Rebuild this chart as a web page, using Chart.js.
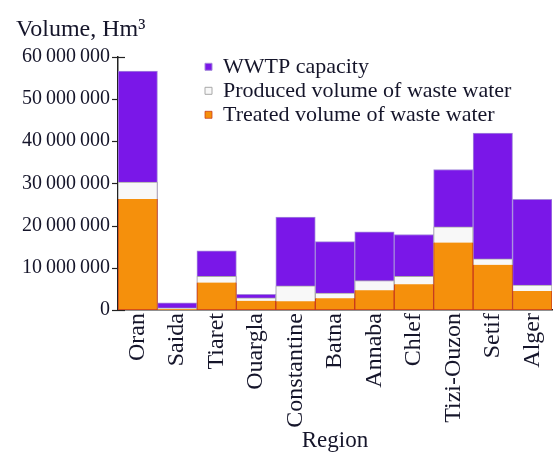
<!DOCTYPE html>
<html>
<head>
<meta charset="utf-8">
<script src="https://cdn.jsdelivr.net/npm/chart.js@4"></script>
<style>
  html, body { margin: 0; padding: 0; background: #fff; }
  #wrap { width: 558px; height: 455px; }
</style>
</head>
<body>
<div id="wrap"><canvas id="chart"></canvas></div>
<script>
// ===== Data =====
const regions = ["Oran", "Saida", "Tiaret", "Ouargla", "Constantine", "Batna", "Annaba", "Chlef", "Tizi-Ouzon", "Setif", "Alger"];
const wwtpCapacity   = [56.6e6, 1.7e6, 14.0e6, 3.7e6, 22.0e6, 16.2e6, 18.5e6, 17.9e6, 33.3e6, 41.9e6, 26.2e6];
const producedVolume = [30.3e6, 0.5e6,  8.0e6, 2.9e6,  5.7e6,  4.0e6,  7.0e6,  8.0e6, 19.7e6, 12.1e6,  5.9e6];
const treatedVolume  = [26.3e6, 0.2e6,  6.5e6, 2.2e6,  2.1e6,  2.8e6,  4.7e6,  6.1e6, 16.0e6, 10.7e6,  4.5e6];
const yMax = 60e6;
const yStep = 10e6;

const SERIF = "'Liberation Serif', 'Times New Roman', serif";
const INK = "#15152a";

// group thousands with thin spaces: 60 000 000
const fmt = v => v === 0 ? "0" : Math.round(v).toString().replace(/\B(?=(\d{3})+(?!\d))/g, "\u2009");

// ticks that cross the axes (drawn under the bars)
const axisTicks = {
  id: "axisTicks",
  beforeDatasetsDraw(chart) {
    const { ctx, scales: { x, y } } = chart;
    ctx.save();
    ctx.strokeStyle = "#222";
    ctx.lineWidth = 1.2;
    y.ticks.forEach(t => {
      const py = Math.round(y.getPixelForValue(t.value)) + 0.5;
      ctx.beginPath();
      ctx.moveTo(y.right - 6, py);
      ctx.lineTo(y.right + 7, py);
      ctx.stroke();
    });
    regions.forEach((r, i) => {
      const px = Math.round(x.getPixelForValue(i)) + 0.5;
      ctx.beginPath();
      ctx.moveTo(px, x.top);
      ctx.lineTo(px, x.top - 7);
      ctx.stroke();
    });
    ctx.restore();
  }
};

// legend inside the plot, right of the first bar; title nudged right
const placeBoxes = {
  id: "placeBoxes",
  afterLayout(chart) {
    const lg = chart.legend;
    const w = lg.width, h = lg.height;
    lg.left = 203; lg.right = lg.left + w;
    lg.top = chart.chartArea.top - 3; lg.bottom = lg.top + h;
    const tb = chart.titleBlock;
    tb.left = 16; tb.right = tb.left + tb.width;
  }
};

new Chart(document.getElementById("chart"), {
  type: "bar",
  data: {
    labels: regions,
    datasets: [
      {
        label: "WWTP capacity",
        data: wwtpCapacity,
        backgroundColor: "#7a17e8",
        borderColor: "#a488dc",
        borderWidth: 1,
        order: 3
      },
      {
        label: "Produced volume of waste water",
        data: producedVolume,
        backgroundColor: "#f8f8f8",
        borderColor: "#a8a8a8",
        borderWidth: 1,
        order: 2
      },
      {
        label: "Treated volume of waste water",
        data: treatedVolume,
        backgroundColor: "#f5900c",
        borderColor: "#c8381c",
        borderWidth: { left: 1, right: 1, bottom: 1, top: 0 },
        borderSkipped: false,
        order: 1
      }
    ]
  },
  options: {
    responsive: true,
    maintainAspectRatio: false,
    animation: false,
    barPercentage: 1,
    categoryPercentage: 1,
    layout: { padding: { left: 4, right: 6, top: 0, bottom: 0 } },
    scales: {
      x: {
        stacked: true,
        grid: { display: false, drawTicks: false },
        border: { display: true, color: "#222", width: 1.5 },
        ticks: {
          autoSkip: false,
          minRotation: 90,
          maxRotation: 90,
          padding: 3,
          color: INK,
          font: { family: SERIF, size: 24 }
        },
        title: {
          display: true,
          text: "Region",
          color: INK,
          font: { family: SERIF, size: 23 },
          padding: { top: 0, bottom: 0 }
        },
        afterFit: s => { s.height = 145; s.paddingLeft = 0; s.paddingRight = 0; }
      },
      y: {
        stacked: false,
        min: 0,
        max: yMax,
        grid: { display: false, drawTicks: false },
        border: { display: true, color: "#222", width: 1.5 },
        ticks: {
          stepSize: yStep,
          padding: 8,
          color: INK,
          font: { family: SERIF, size: 20 },
          callback: v => fmt(v)
        },
        afterFit: s => { s.width = 114; }
      }
    },
    plugins: {
      title: {
        display: true,
        text: "Volume, Hm³",
        align: "start",
        color: INK,
        font: { family: SERIF, size: 24, weight: "normal" },
        padding: { top: 15, bottom: 13 }
      },
      legend: {
        position: "chartArea",
        align: "start",
        labels: {
          boxWidth: 7,
          boxHeight: 7,
          padding: 2,
          color: INK,
          font: { family: SERIF, size: 22 },
          sort: (a, b) => a.datasetIndex - b.datasetIndex
        }
      },
      tooltip: { enabled: false }
    }
  },
  plugins: [axisTicks, placeBoxes]
});
</script>
</body>
</html>
